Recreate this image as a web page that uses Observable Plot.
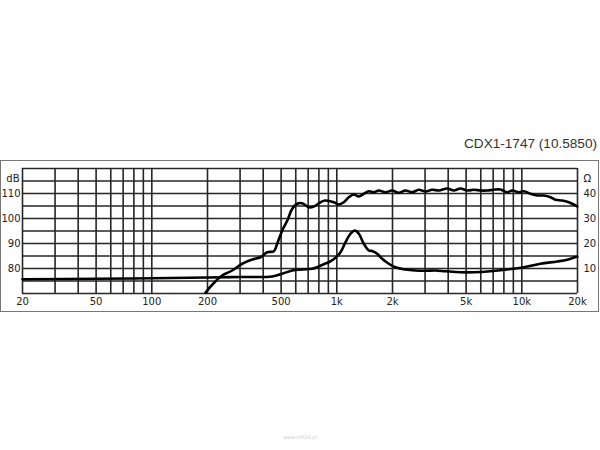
<!DOCTYPE html>
<html><head><meta charset="utf-8">
<script src="https://cdn.jsdelivr.net/npm/d3@7"></script>
<script src="https://cdn.jsdelivr.net/npm/@observablehq/plot@0.6"></script>
<style>
body{margin:0;background:#fff;}
#wrap{position:relative;width:600px;height:450px;overflow:hidden;}
#frame{position:absolute;left:0;top:160px;width:597px;height:150px;border:1px solid #777;}
#title{position:absolute;right:3px;top:136px;font:13.6px "Liberation Sans",Arial,sans-serif;color:#333;white-space:nowrap;}
#wm{position:absolute;left:0;width:600px;top:434px;text-align:center;font:5px "DejaVu Sans",sans-serif;color:#ccc;}
#chart{position:absolute;left:0;top:0;}
</style></head><body>
<div id="wrap"><div id="frame"></div><div id="title">CDX1-1747 (10.5850)</div><div id="wm">www.hifi24.pl</div><div id="chart"></div></div>
<script>
// frequency response (dB)
const splFreq = [195,212,240,272,308,349,387,420,457,476,507,540,574,611,650,706,751,816,866,964,1025,1091,1161,1236,1316,1400,1490,1585,1688,1833,1991,2163,2350,2555,2775,3013,3278,3560,3950,4290,4664,5068,5503,5981,6500,7056,7669,8337,8870,9630,10250,11140,12110,13150,14290,15200,16530,17950,19100,19930];
const splDb = [70.3,73.5,77.2,79.2,81.9,83.6,84.5,86.5,86.9,89.9,95.2,99.2,103.9,105.9,106.1,104.5,104.8,106.5,107.2,106.5,105.6,106.5,108.5,109.6,108.8,109.9,110.9,110.5,111.2,110.5,111.2,110.3,111.2,110.5,111.5,110.8,111.5,111.2,112,111.2,112,111.2,111.5,111.2,111.2,111.5,111.6,110.5,111.2,110.5,110.9,109.9,109.2,109.2,108.5,107.5,107.2,106.5,105.6,104.8];
// impedance (ohm)
const impFreq = [20,50,100,200,300,447,507,574,650,736,799,868,905,984,1047,1114,1186,1251,1316,1400,1490,1553,1653,1758,1910,2075,2350,2662,3013,3413,3865,4664,5503,6771,8337,10250,12620,15530,17590,19930];
const impOhm = [5.7,5.9,6.1,6.4,6.6,6.8,7.9,9.2,9.6,9.9,10.8,12.0,12.5,14.3,16.5,20.5,23.9,25.2,23.9,19.9,17.2,17.0,15.9,13.9,11.9,10.5,9.6,9.2,9.1,9.2,8.9,8.5,8.5,8.9,9.6,10.5,11.9,12.8,13.5,14.8];
// grid and ticks
const freqGrid = [20,30,40,50,60,70,80,90,100,200,300,400,500,600,700,800,900,1000,2000,3000,4000,5000,6000,7000,8000,9000,10000,20000];
const dbGrid = [70,75,80,85,90,95,100,105,110,115,120];
const freqTicks = [20,50,100,200,500,1000,2000,5000,10000,20000];
const dbTicks = [80,90,100,110];
const ohmTicks = [10,20,30,40];
const ohmOffset = 70; // 0 ohm sits at 70 dB, 1 ohm per dB

const spl = splFreq.map((f,i)=>({f, v: splDb[i]}));
const imp = impFreq.map((f,i)=>({f, v: impOhm[i] + ohmOffset}));
const fmtF = d => d >= 1000 ? (d/1000) + "k" : String(d);
const ink = "#262626";

const chart = Plot.plot({
  width: 600, height: 450,
  marginLeft: 22, marginRight: 23, marginTop: 168, marginBottom: 157,
  style: {fontFamily: "'DejaVu Sans', Verdana, sans-serif", fontSize: "10px", color: "#222", background: "transparent"},
  x: {type: "log", domain: [20, 20000], axis: null},
  y: {domain: [70, 120], axis: null},
  marks: [
    Plot.ruleY(dbGrid, {stroke: ink, strokeWidth: 1.6}),
    Plot.ruleX(freqGrid, {stroke: ink, strokeWidth: 1.6}),
    Plot.line(imp, {x: "f", y: "v", stroke: "#000", strokeWidth: 2.6, curve: "catmull-rom"}),
    Plot.line(spl, {x: "f", y: "v", stroke: "#000", strokeWidth: 2.6, curve: "catmull-rom"}),
    Plot.text(freqTicks, {x: d => d, frameAnchor: "bottom", lineAnchor: "top", dy: 4, text: fmtF, fill: "#222"}),
    Plot.text(dbTicks, {y: d => d, frameAnchor: "left", textAnchor: "end", dx: -2, text: d => String(d), fill: "#222"}),
    Plot.text(ohmTicks, {y: d => d + ohmOffset, frameAnchor: "right", textAnchor: "start", dx: 6, text: d => String(d), fill: "#222"}),
    Plot.text(["dB"], {frameAnchor: "top-left", textAnchor: "end", dx: -3, dy: 6}),
    Plot.text(["Ω"], {frameAnchor: "top-right", textAnchor: "start", dx: 6, dy: 6})
  ]
});
document.getElementById("chart").appendChild(chart);
</script>
</body></html>
